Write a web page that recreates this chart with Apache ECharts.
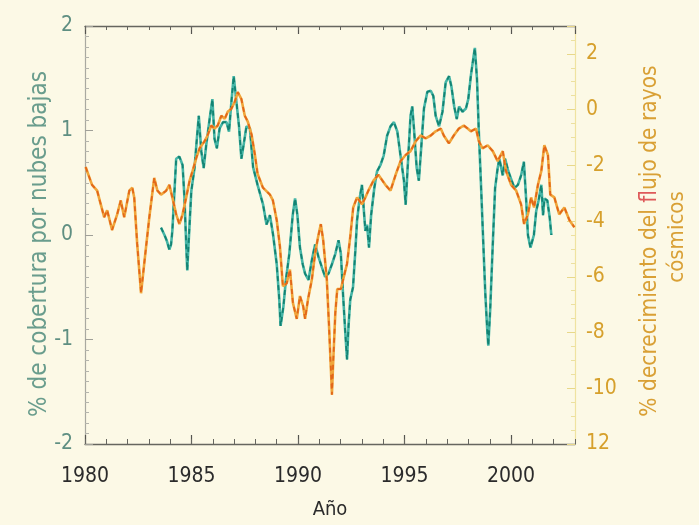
<!DOCTYPE html>
<html><head><meta charset="utf-8">
<script src="https://cdn.jsdelivr.net/npm/echarts@6/dist/echarts.min.js"></script>
<style>html,body{margin:0;padding:0;background:#fcf9e6}#c{width:699px;height:525px}</style>
</head><body><div id="c"></div>
<script>
// ---- data ----
const cloudYears = [1983.57,1983.73,1983.83,1983.96,1984.04,1984.10,1984.28,1984.43,1984.58,1984.67,
1984.75,1984.80,1984.86,1984.99,1985.14,1985.25,1985.34,1985.46,1985.57,1985.69,
1985.85,1985.98,1986.08,1986.19,1986.32,1986.48,1986.64,1986.76,1986.87,1986.98,
1987.11,1987.23,1987.34,1987.42,1987.58,1987.74,1987.89,1988.10,1988.36,1988.52,
1988.68,1988.83,1989.00,1989.12,1989.18,1989.31,1989.43,1989.59,1989.75,1989.86,
1989.97,1990.09,1990.22,1990.33,1990.49,1990.65,1990.80,1990.96,1991.12,1991.27,
1991.43,1991.59,1991.75,1991.90,1992.01,1992.11,1992.22,1992.30,1992.37,1992.45,
1992.58,1992.69,1992.77,1992.89,1993.00,1993.08,1993.16,1993.24,1993.33,1993.43,
1993.58,1993.71,1993.87,1994.02,1994.18,1994.34,1994.50,1994.66,1994.81,1994.97,
1995.05,1995.16,1995.28,1995.36,1995.44,1995.57,1995.67,1995.79,1995.91,1996.07,
1996.23,1996.35,1996.46,1996.62,1996.78,1996.93,1997.09,1997.20,1997.33,1997.45,
1997.56,1997.72,1997.88,1997.99,1998.11,1998.24,1998.30,1998.40,1998.48,1998.58,
1998.69,1998.79,1998.87,1998.93,1999.02,1999.14,1999.25,1999.37,1999.45,1999.61,
1999.72,1999.87,2000.03,2000.16,2000.32,2000.47,2000.60,2000.71,2000.79,2000.91,
2001.07,2001.18,2001.29,2001.42,2001.50,2001.57,2001.70,2001.81,2001.89];
const cloudValues = [0.07,0.00,-0.05,-0.14,-0.09,0.04,0.73,0.75,0.67,0.35,
-0.09,-0.34,-0.09,0.42,0.64,0.92,1.14,0.80,0.64,0.86,
1.11,1.30,0.92,0.83,1.02,1.08,1.08,0.99,1.27,1.52,
1.27,1.04,0.73,0.83,1.04,1.02,0.65,0.48,0.29,0.10,
0.19,0.00,-0.28,-0.62,-0.87,-0.69,-0.43,-0.18,0.19,0.35,
0.19,-0.12,-0.28,-0.37,-0.43,-0.24,-0.09,-0.21,-0.31,-0.40,
-0.37,-0.28,-0.18,-0.05,-0.18,-0.56,-0.94,-1.19,-0.87,-0.62,
-0.50,-0.15,0.14,0.35,0.48,0.26,0.04,0.10,-0.12,0.19,
0.45,0.61,0.67,0.76,0.95,1.04,1.08,0.99,0.76,0.52,
0.29,0.70,1.14,1.23,1.02,0.64,0.52,0.86,1.21,1.37,
1.38,1.33,1.14,1.04,1.18,1.46,1.52,1.42,1.23,1.11,
1.23,1.18,1.21,1.30,1.52,1.71,1.79,1.49,1.02,0.52,
-0.05,-0.56,-0.87,-1.06,-0.71,-0.09,0.45,0.64,0.73,0.57,
0.73,0.61,0.52,0.45,0.48,0.57,0.70,0.33,0.00,-0.12,
0.00,0.23,0.33,0.48,0.19,0.35,0.33,0.17,0.00];

const cosmicYears = [1980.03,1980.33,1980.57,1980.74,1980.90,1981.04,1981.27,1981.51,1981.68,1981.84,
1982.08,1982.22,1982.31,1982.45,1982.63,1982.78,1983.02,1983.25,1983.40,1983.57,
1983.81,1983.96,1984.10,1984.28,1984.43,1984.58,1984.75,1984.91,1985.05,1985.22,
1985.38,1985.61,1985.75,1985.93,1986.08,1986.23,1986.40,1986.56,1986.70,1986.87,
1987.03,1987.17,1987.34,1987.50,1987.64,1987.82,1987.97,1988.10,1988.35,1988.68,
1988.82,1989.00,1989.15,1989.23,1989.29,1989.47,1989.62,1989.76,1989.94,1990.09,
1990.24,1990.33,1990.47,1990.65,1990.80,1990.94,1991.07,1991.18,1991.35,1991.46,
1991.56,1991.59,1991.65,1991.75,1991.84,1992.01,1992.12,1992.30,1992.45,1992.59,
1992.77,1993.00,1993.16,1993.30,1993.54,1993.77,1994.10,1994.34,1994.58,1994.81,
1995.05,1995.28,1995.52,1995.75,1995.99,1996.23,1996.46,1996.70,1996.84,1997.08,
1997.31,1997.55,1997.78,1997.96,1998.11,1998.35,1998.49,1998.66,1998.90,1999.14,
1999.37,1999.61,1999.76,2000.00,2000.24,2000.47,2000.61,2000.79,2000.94,2001.08,
2001.26,2001.42,2001.56,2001.73,2001.84,2002.03,2002.26,2002.50,2002.74,2002.97];
const cosmicValues = [-2.06,-2.70,-2.91,-3.40,-3.86,-3.61,-4.32,-3.76,-3.26,-3.86,
-2.91,-2.80,-3.15,-4.82,-6.59,-5.53,-3.86,-2.45,-2.91,-3.05,
-2.91,-2.70,-3.15,-3.76,-4.11,-3.76,-3.15,-2.55,-2.20,-1.74,
-1.39,-1.14,-0.93,-0.57,-0.68,-0.57,-0.22,-0.33,-0.08,0.03,
0.28,0.63,0.38,-0.22,-0.43,-0.90,-1.60,-2.30,-2.80,-3.05,
-3.26,-3.97,-4.92,-5.74,-6.34,-6.23,-5.74,-6.94,-7.51,-6.69,
-7.05,-7.51,-6.80,-6.09,-5.17,-4.57,-4.11,-4.68,-6.09,-7.86,
-9.63,-10.23,-9.06,-7.29,-6.44,-6.44,-6.09,-5.53,-4.57,-3.51,
-3.15,-3.40,-3.15,-2.91,-2.55,-2.34,-2.70,-2.91,-2.34,-1.85,
-1.63,-1.49,-1.14,-0.93,-1.03,-0.93,-0.78,-0.68,-0.93,-1.21,
-0.93,-0.68,-0.57,-0.68,-0.78,-0.68,-1.14,-1.39,-1.28,-1.49,
-1.85,-1.49,-2.20,-2.70,-2.91,-3.40,-4.11,-3.76,-3.15,-3.51,
-2.70,-2.20,-1.28,-1.63,-3.05,-3.15,-3.76,-3.51,-3.97,-4.22];

const yearLabelTicks = [1980,1985,1990,1995,2000];
const leftTickLabels = ['-2','-1','0','1','2'];           // for values -2..2
const rightTickLabels = ['12','-10','-8','-6','-4','-2','0','2']; // for values -12..2

const leftTitle = '% de cobertura por nubes bajas';
const rightTitleA = '% decrecimiento del ';
const rightTitleB = 'fl';
const rightTitleC = 'ujo de rayos';
const rightTitle2 = 'cósmicos';
const xTitle = 'Año';

// ---- chart ----
const FONT = '"DejaVu Sans Condensed", "DejaVu Sans", sans-serif';
const XMIN = 1980, XMAX = 2003;
const pairs = (xs, ys) => xs.map((x, i) => [x, ys[i]]);

const baseX = (extra) => Object.assign({
  type: 'value', min: XMIN, max: XMAX, splitLine: {show: false},
  axisLabel: {show: false}, axisLine: {show: false, onZero: false}
}, extra);

const lineSeries = (name, xs, ys, yIdx, base, dash, z) => ([
  {type: 'line', name: name, xAxisIndex: 0, yAxisIndex: yIdx,
    data: pairs(xs, ys), showSymbol: false, silent: true,
    lineStyle: {color: base, width: 2.6}, z: z},
  {type: 'line', name: name + '-trazo', xAxisIndex: 0, yAxisIndex: yIdx,
    data: pairs(xs, ys), showSymbol: false, silent: true,
    lineStyle: {color: dash, width: 1.8, type: [5, 4]}, z: z + 1}
]);

const chart = echarts.init(document.getElementById('c'), null, {renderer: 'canvas'});
chart.setOption({
  backgroundColor: '#fcf9e6',
  animation: false,
  grid: {left: 85, right: 124, top: 26, bottom: 75},
  xAxis: [
    baseX({position: 'bottom', interval: 5,
      axisLine: {show: true, onZero: false, lineStyle: {color: '#66665f', width: 1.3}},
      axisTick: {show: true, inside: true, length: 9, lineStyle: {color: '#55554f', width: 1.2}},
      axisLabel: {show: true, color: '#2b2b2b', fontFamily: FONT, fontSize: 21, margin: 22,
        showMaxLabel: false,
        formatter: v => yearLabelTicks.indexOf(v) >= 0 ? String(v) : ''},
      name: xTitle, nameLocation: 'middle', nameGap: 56,
      nameTextStyle: {color: '#2b2b2b', fontFamily: FONT, fontSize: 20}}),
    baseX({position: 'bottom', interval: 1,
      axisTick: {show: true, inside: true, length: 5, lineStyle: {color: '#66665f', width: 1}}}),
    baseX({position: 'top', interval: 5,
      axisLine: {show: true, onZero: false, lineStyle: {color: '#66665f', width: 1.3}},
      axisTick: {show: true, inside: true, length: 8, lineStyle: {color: '#55554f', width: 1.2}}}),
    baseX({position: 'top', interval: 1,
      axisTick: {show: true, inside: true, length: 4, lineStyle: {color: '#66665f', width: 1}}})
  ],
  yAxis: [
    {type: 'value', position: 'left', min: -2, max: 2, interval: 1,
      splitLine: {show: false},
      axisLine: {show: true, onZero: false, lineStyle: {color: '#a9a9a0', width: 1.2}},
      axisTick: {show: true, inside: true, length: 8, lineStyle: {color: '#a0a098'}},
      minorTick: {show: true, splitNumber: 10, length: 4, lineStyle: {color: '#b4b4ac'}},
      axisLabel: {color: '#5f8f82', fontFamily: FONT, fontSize: 21, margin: 12,
        padding: [0, 0, 10, 0],
        formatter: v => leftTickLabels[v + 2]}},
    {type: 'value', position: 'right', min: -12, max: 3, interval: 2,
      splitLine: {show: false},
      axisLine: {show: true, onZero: false, lineStyle: {color: '#efe3a0', width: 1.2}},
      axisTick: {show: true, inside: true, length: 8, lineStyle: {color: '#e8d88a'}},
      minorTick: {show: true, splitNumber: 4, length: 4, lineStyle: {color: '#ece0a0'}},
      axisLabel: {color: '#d6a02c', fontFamily: FONT, fontSize: 21, margin: 11,
        showMaxLabel: false,
        formatter: v => { const i = (v + 12) / 2; return rightTickLabels[i] !== undefined ? rightTickLabels[i] : ''; }}}
  ],
  series: [].concat(
    lineSeries('nubes', cloudYears, cloudValues, 0, '#45b5a6', '#138272', 2),
    lineSeries('rayos', cosmicYears, cosmicValues, 1, '#f0a53a', '#e2661a', 4)
  ),
  graphic: [
    {type: 'text', x: 40, y: 244, rotation: Math.PI / 2,
      style: {text: leftTitle, fill: '#6a9d8d', font: '24px ' + FONT, align: 'center', verticalAlign: 'middle'}},
    {type: 'text', x: 650, y: 241, rotation: Math.PI / 2,
      style: {text: '{a|' + rightTitleA + '}{b|' + rightTitleB + '}{a|' + rightTitleC + '}',
        align: 'center', verticalAlign: 'middle',
        rich: {a: {fill: '#d9a035', font: '22.5px ' + FONT}, b: {fill: '#de5a5a', font: '22.5px ' + FONT}}}},
    {type: 'text', x: 677, y: 237, rotation: Math.PI / 2,
      style: {text: rightTitle2, fill: '#d9a035', font: '22px ' + FONT, align: 'center', verticalAlign: 'middle'}}
  ]
});
</script></body></html>
